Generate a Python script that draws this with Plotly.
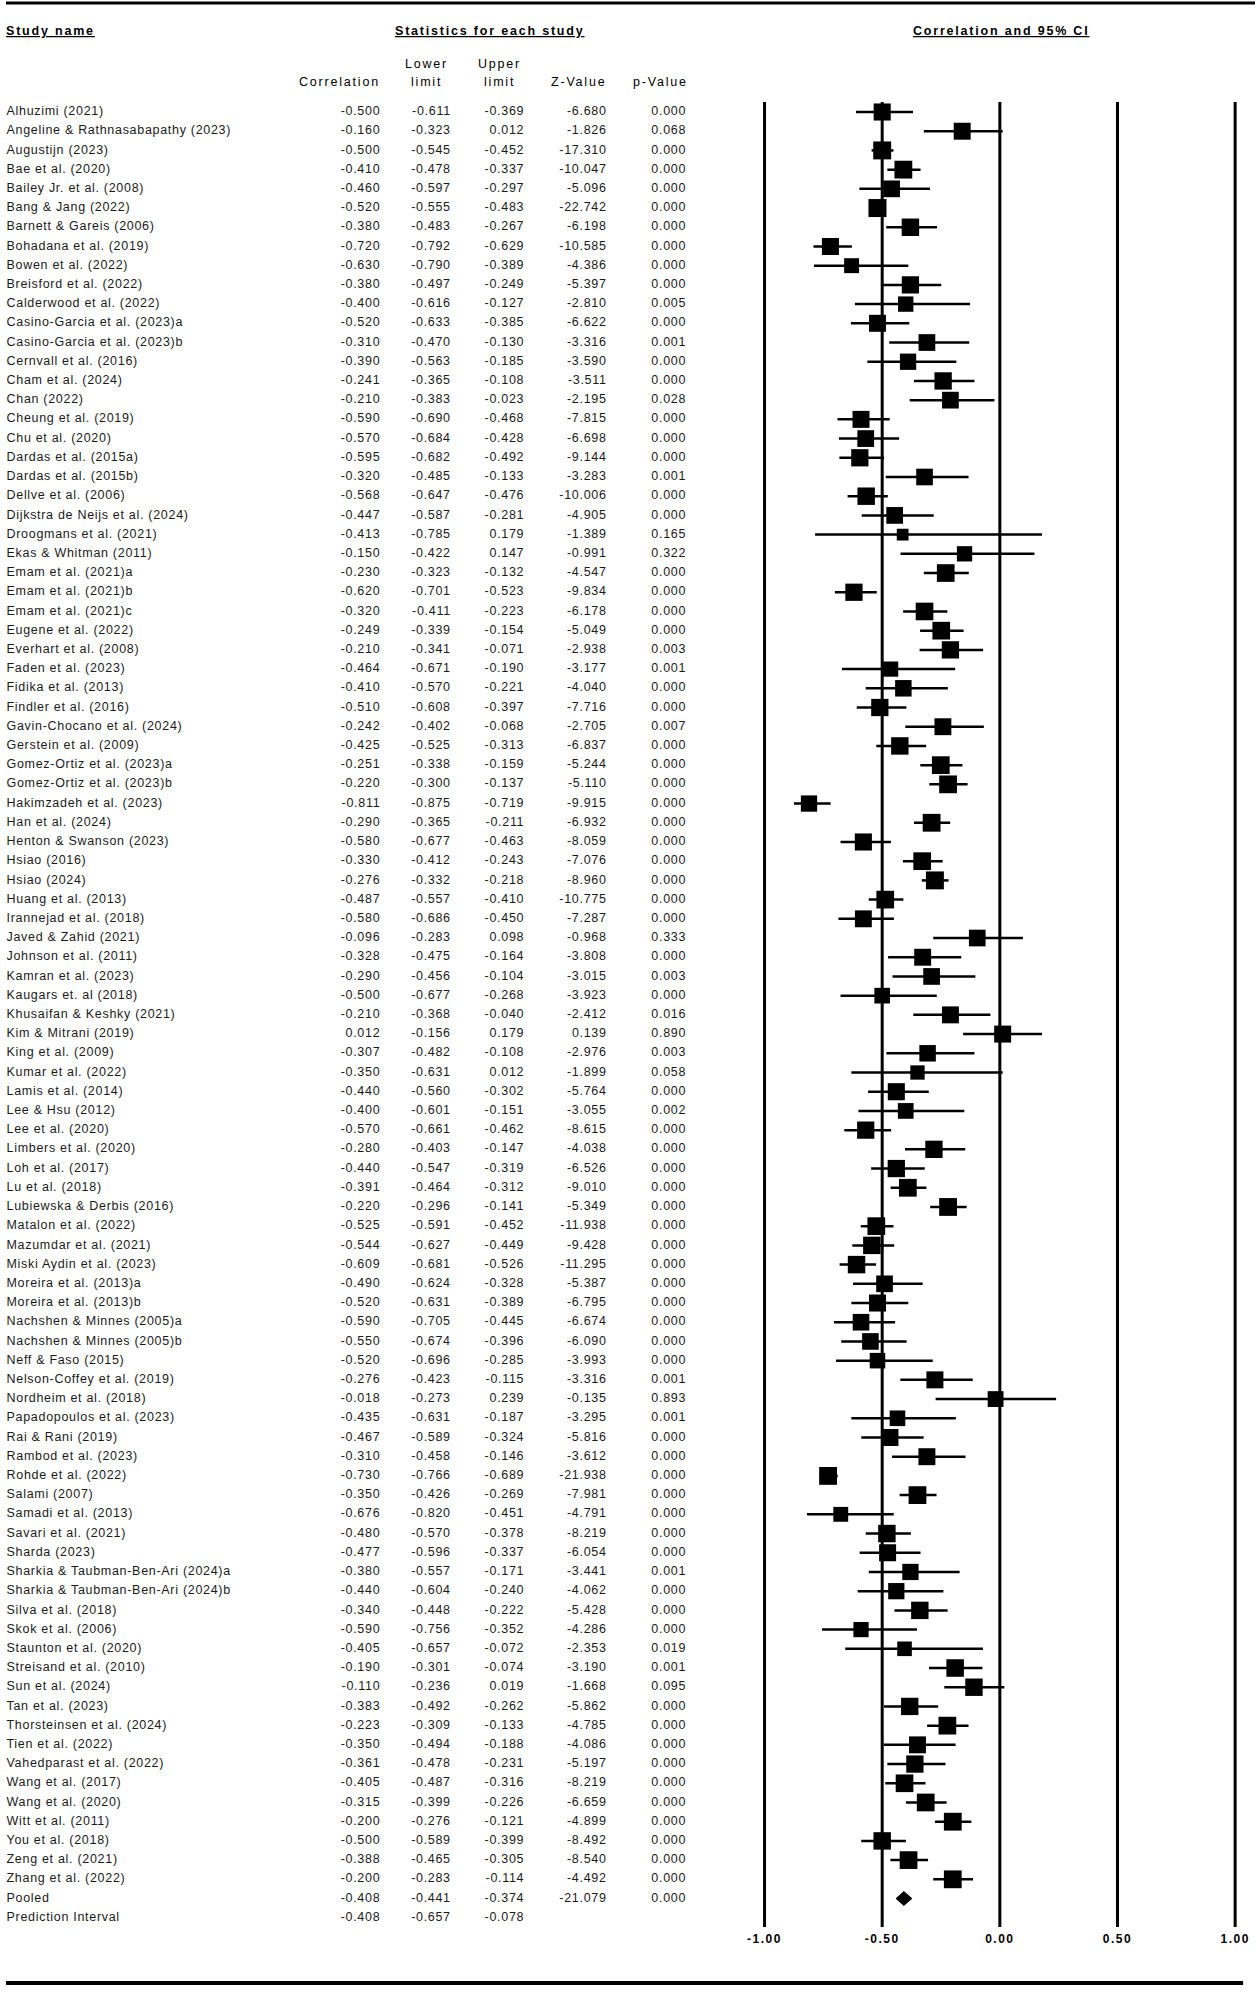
import numpy as np
import plotly.graph_objects as go

studies = [
    "Alhuzimi (2021)", "Angeline & Rathnasabapathy (2023)", "Augustijn (2023)", "Bae et al. (2020)",
    "Bailey Jr. et al. (2008)", "Bang & Jang (2022)", "Barnett & Gareis (2006)", "Bohadana et al. (2019)",
    "Bowen et al. (2022)", "Breisford et al. (2022)", "Calderwood et al. (2022)", "Casino-Garcia et al. (2023)a",
    "Casino-Garcia et al. (2023)b", "Cernvall et al. (2016)", "Cham et al. (2024)", "Chan (2022)",
    "Cheung et al. (2019)", "Chu et al. (2020)", "Dardas et al. (2015a)", "Dardas et al. (2015b)",
    "Dellve et al. (2006)", "Dijkstra de Neijs et al. (2024)", "Droogmans et al. (2021)", "Ekas & Whitman (2011)",
    "Emam et al. (2021)a", "Emam et al. (2021)b", "Emam et al. (2021)c", "Eugene et al. (2022)",
    "Everhart et al. (2008)", "Faden et al. (2023)", "Fidika et al. (2013)", "Findler et al. (2016)",
    "Gavin-Chocano et al. (2024)", "Gerstein et al. (2009)", "Gomez-Ortiz et al. (2023)a", "Gomez-Ortiz et al. (2023)b",
    "Hakimzadeh et al. (2023)", "Han et al. (2024)", "Henton & Swanson (2023)", "Hsiao (2016)",
    "Hsiao (2024)", "Huang et al. (2013)", "Irannejad et al. (2018)", "Javed & Zahid (2021)",
    "Johnson et al. (2011)", "Kamran et al. (2023)", "Kaugars et. al (2018)", "Khusaifan & Keshky (2021)",
    "Kim & Mitrani (2019)", "King et al. (2009)", "Kumar et al. (2022)", "Lamis et al. (2014)",
    "Lee & Hsu (2012)", "Lee et al. (2020)", "Limbers et al. (2020)", "Loh et al. (2017)",
    "Lu et al. (2018)", "Lubiewska & Derbis (2016)", "Matalon et al. (2022)", "Mazumdar et al. (2021)",
    "Miski Aydin et al. (2023)", "Moreira et al. (2013)a", "Moreira et al. (2013)b", "Nachshen & Minnes (2005)a",
    "Nachshen & Minnes (2005)b", "Neff & Faso (2015)", "Nelson-Coffey et al. (2019)", "Nordheim et al. (2018)",
    "Papadopoulos et al. (2023)", "Rai & Rani (2019)", "Rambod et al. (2023)", "Rohde et al. (2022)",
    "Salami (2007)", "Samadi et al. (2013)", "Savari et al. (2021)", "Sharda (2023)",
    "Sharkia & Taubman-Ben-Ari (2024)a", "Sharkia & Taubman-Ben-Ari (2024)b", "Silva et al. (2018)", "Skok et al. (2006)",
    "Staunton et al. (2020)", "Streisand et al. (2010)", "Sun et al. (2024)", "Tan et al. (2023)",
    "Thorsteinsen et al. (2024)", "Tien et al. (2022)", "Vahedparast et al. (2022)", "Wang et al. (2017)",
    "Wang et al. (2020)", "Witt et al. (2011)", "You et al. (2018)", "Zeng et al. (2021)",
    "Zhang et al. (2022)", "Pooled", "Prediction Interval",
]

correlation = [
    -0.500, -0.160, -0.500, -0.410, -0.460, -0.520, -0.380, -0.720, -0.630, -0.380, -0.400, -0.520,
    -0.310, -0.390, -0.241, -0.210, -0.590, -0.570, -0.595, -0.320, -0.568, -0.447, -0.413, -0.150,
    -0.230, -0.620, -0.320, -0.249, -0.210, -0.464, -0.410, -0.510, -0.242, -0.425, -0.251, -0.220,
    -0.811, -0.290, -0.580, -0.330, -0.276, -0.487, -0.580, -0.096, -0.328, -0.290, -0.500, -0.210,
    0.012, -0.307, -0.350, -0.440, -0.400, -0.570, -0.280, -0.440, -0.391, -0.220, -0.525, -0.544,
    -0.609, -0.490, -0.520, -0.590, -0.550, -0.520, -0.276, -0.018, -0.435, -0.467, -0.310, -0.730,
    -0.350, -0.676, -0.480, -0.477, -0.380, -0.440, -0.340, -0.590, -0.405, -0.190, -0.110, -0.383,
    -0.223, -0.350, -0.361, -0.405, -0.315, -0.200, -0.500, -0.388, -0.200, -0.408, -0.408,
]

lower_limit = [
    -0.611, -0.323, -0.545, -0.478, -0.597, -0.555, -0.483, -0.792, -0.790, -0.497, -0.616, -0.633,
    -0.470, -0.563, -0.365, -0.383, -0.690, -0.684, -0.682, -0.485, -0.647, -0.587, -0.785, -0.422,
    -0.323, -0.701, -0.411, -0.339, -0.341, -0.671, -0.570, -0.608, -0.402, -0.525, -0.338, -0.300,
    -0.875, -0.365, -0.677, -0.412, -0.332, -0.557, -0.686, -0.283, -0.475, -0.456, -0.677, -0.368,
    -0.156, -0.482, -0.631, -0.560, -0.601, -0.661, -0.403, -0.547, -0.464, -0.296, -0.591, -0.627,
    -0.681, -0.624, -0.631, -0.705, -0.674, -0.696, -0.423, -0.273, -0.631, -0.589, -0.458, -0.766,
    -0.426, -0.820, -0.570, -0.596, -0.557, -0.604, -0.448, -0.756, -0.657, -0.301, -0.236, -0.492,
    -0.309, -0.494, -0.478, -0.487, -0.399, -0.276, -0.589, -0.465, -0.283, -0.441, -0.657,
]

upper_limit = [
    -0.369, 0.012, -0.452, -0.337, -0.297, -0.483, -0.267, -0.629, -0.389, -0.249, -0.127, -0.385,
    -0.130, -0.185, -0.108, -0.023, -0.468, -0.428, -0.492, -0.133, -0.476, -0.281, 0.179, 0.147,
    -0.132, -0.523, -0.223, -0.154, -0.071, -0.190, -0.221, -0.397, -0.068, -0.313, -0.159, -0.137,
    -0.719, -0.211, -0.463, -0.243, -0.218, -0.410, -0.450, 0.098, -0.164, -0.104, -0.268, -0.040,
    0.179, -0.108, 0.012, -0.302, -0.151, -0.462, -0.147, -0.319, -0.312, -0.141, -0.452, -0.449,
    -0.526, -0.328, -0.389, -0.445, -0.396, -0.285, -0.115, 0.239, -0.187, -0.324, -0.146, -0.689,
    -0.269, -0.451, -0.378, -0.337, -0.171, -0.240, -0.222, -0.352, -0.072, -0.074, 0.019, -0.262,
    -0.133, -0.188, -0.231, -0.316, -0.226, -0.121, -0.399, -0.305, -0.114, -0.374, -0.078,
]

z_value = [
    -6.680, -1.826, -17.310, -10.047, -5.096, -22.742, -6.198, -10.585, -4.386, -5.397, -2.810, -6.622,
    -3.316, -3.590, -3.511, -2.195, -7.815, -6.698, -9.144, -3.283, -10.006, -4.905, -1.389, -0.991,
    -4.547, -9.834, -6.178, -5.049, -2.938, -3.177, -4.040, -7.716, -2.705, -6.837, -5.244, -5.110,
    -9.915, -6.932, -8.059, -7.076, -8.960, -10.775, -7.287, -0.968, -3.808, -3.015, -3.923, -2.412,
    0.139, -2.976, -1.899, -5.764, -3.055, -8.615, -4.038, -6.526, -9.010, -5.349, -11.938, -9.428,
    -11.295, -5.387, -6.795, -6.674, -6.090, -3.993, -3.316, -0.135, -3.295, -5.816, -3.612, -21.938,
    -7.981, -4.791, -8.219, -6.054, -3.441, -4.062, -5.428, -4.286, -2.353, -3.190, -1.668, -5.862,
    -4.785, -4.086, -5.197, -8.219, -6.659, -4.899, -8.492, -8.540, -4.492, -21.079, None,
]

p_value = [
    0.000, 0.068, 0.000, 0.000, 0.000, 0.000, 0.000, 0.000, 0.000, 0.000, 0.005, 0.000,
    0.001, 0.000, 0.000, 0.028, 0.000, 0.000, 0.000, 0.001, 0.000, 0.000, 0.165, 0.322,
    0.000, 0.000, 0.000, 0.000, 0.003, 0.001, 0.000, 0.000, 0.007, 0.000, 0.000, 0.000,
    0.000, 0.000, 0.000, 0.000, 0.000, 0.000, 0.000, 0.333, 0.000, 0.003, 0.000, 0.016,
    0.890, 0.003, 0.058, 0.000, 0.002, 0.000, 0.000, 0.000, 0.000, 0.000, 0.000, 0.000,
    0.000, 0.000, 0.000, 0.000, 0.000, 0.000, 0.001, 0.893, 0.001, 0.000, 0.000, 0.000,
    0.000, 0.000, 0.000, 0.000, 0.001, 0.000, 0.000, 0.000, 0.019, 0.001, 0.095, 0.000,
    0.000, 0.000, 0.000, 0.000, 0.000, 0.000, 0.000, 0.000, 0.000, 0.000, None,
]

axis_ticks = [-1.0, -0.5, 0.0, 0.5, 1.0]
axis_ticktext = ["-1.00", "-0.50", "0.00", "0.50", "1.00"]

# ---------------- layout constants (pixels of the 1258 x 1994 page) ----------------
W, H = 1258, 1994
ROW0, ROWH = 112.0, 19.21        # pixel y of first row, row pitch
PLOT_BOTTOM = 1930.0             # pixel y where the plotting band ends (axis labels below)
X_M1, X_P1 = 764.0, 1238.0       # pixel x of -1 and +1
FONT = "Liberation Sans, Arial, sans-serif"
TXT = "#1a1a1a"
BODY_SP = "letter-spacing:0.7px"
HEAD_SP = "letter-spacing:1.8px"

n = len(studies)
rows = list(range(n))
pooled_idx = studies.index("Pooled")
pi_idx = studies.index("Prediction Interval")
study_rows = [i for i in rows if i not in (pooled_idx, pi_idx)]

# y axis: row index, reversed
y_top = (0 - ROW0) / ROWH
y_bot = (PLOT_BOTTOM - ROW0) / ROWH
ydom0 = (H - PLOT_BOTTOM) / H

# forest x axis
ppu = (X_P1 - X_M1) / 2.0
xr = [-1.05, 1.05]
xdom = [(X_M1 + (xr[0] + 1) * ppu) / W, (X_M1 + (xr[1] + 1) * ppu) / W]


def sp(t, style):
    return f'<span style="{style}">{t}</span>' if t else ""


def fmt(v):
    return "" if v is None else sp(f"{v:.3f}", BODY_SP)


# random-effects weights for box sizes (Fisher z scale)
zl = np.arctanh(np.array(lower_limit, dtype=float))
zu = np.arctanh(np.array(upper_limit, dtype=float))
se = (zu - zl) / (2 * 1.96)
pi_half = (zu[pi_idx] - zl[pi_idx]) / 2
tau2 = max((pi_half / 1.99) ** 2 - se[pooled_idx] ** 2, 0.0)
w = 1.0 / (se ** 2 + tau2)
w_st = w[study_rows]
sizes = 18.0 * (w_st / w_st.max()) ** 0.3

fig = go.Figure()

# whiskers
wx, wy = [], []
for i in study_rows:
    wx += [lower_limit[i], upper_limit[i], None]
    wy += [i, i, None]
fig.add_trace(go.Scatter(x=wx, y=wy, mode="lines", line=dict(color="black", width=2.5),
                         hoverinfo="skip", xaxis="x", yaxis="y", cliponaxis=False))

# squares
fig.add_trace(go.Scatter(
    x=[correlation[i] for i in study_rows], y=study_rows, mode="markers",
    marker=dict(symbol="square", size=sizes, color="black", opacity=1, line=dict(width=0)),
    xaxis="x", yaxis="y", cliponaxis=False,
    text=[studies[i] for i in study_rows], hoverinfo="text+x"))

# pooled diamond
dh = 0.36
fig.add_trace(go.Scatter(
    x=[lower_limit[pooled_idx], correlation[pooled_idx], upper_limit[pooled_idx], correlation[pooled_idx], lower_limit[pooled_idx]],
    y=[pooled_idx, pooled_idx - dh, pooled_idx, pooled_idx + dh, pooled_idx],
    mode="lines", fill="toself", fillcolor="black", line=dict(color="black", width=1),
    xaxis="x", yaxis="y", hoverinfo="skip", cliponaxis=False))

# table columns (on a pixel-unit x axis)
tfont = dict(family=FONT, size=12.5, color=TXT)
fig.add_trace(go.Scatter(x=[0.5] * n, y=rows, text=[sp(s, BODY_SP) for s in studies], mode="text",
                         textposition="middle right", textfont=tfont, xaxis="x2", yaxis="y",
                         hoverinfo="skip", cliponaxis=False))
columns = [
    (377, [fmt(v) for v in correlation]),
    (448, [fmt(v) for v in lower_limit]),
    (522, [fmt(v) for v in upper_limit]),
    (605, [fmt(v) for v in z_value]),
    (685, [fmt(v) for v in p_value]),
]
for xpos, col in columns:
    fig.add_trace(go.Scatter(x=[xpos] * n, y=rows, text=col, mode="text", textposition="middle left",
                             textfont=tfont, xaxis="x2", yaxis="y", hoverinfo="skip", cliponaxis=False))

# vertical reference lines
shapes = []
for v in axis_ticks:
    shapes.append(dict(type="line", xref="x", yref="y", x0=v, x1=v,
                       y0=(102 - ROW0) / ROWH, y1=(1927 - ROW0) / ROWH,
                       line=dict(color="black", width=3)))
# top and bottom rules
shapes.append(dict(type="line", xref="paper", yref="paper", x0=0, x1=1,
                   y0=1 - 3 / H, y1=1 - 3 / H, line=dict(color="black", width=3)))
shapes.append(dict(type="line", xref="paper", yref="paper", x0=0, x1=1246 / W,
                   y0=1 - 1983 / H, y1=1 - 1983 / H, line=dict(color="black", width=4)))


def ann(text, x, y, xanchor, style=HEAD_SP, size=12.5):
    return dict(text=sp(text, style), x=x / W, y=1 - y / H, xref="paper", yref="paper",
                xanchor=xanchor, yanchor="middle", showarrow=False,
                font=dict(family=FONT, size=size, color="black"))


annotations = [
    ann("<b><u>Study name</u></b>", -2, 31, "left"),
    ann("<b><u>Statistics for each study</u></b>", 487, 31, "center"),
    ann("<b><u>Correlation and 95% CI</u></b>", 1002, 31, "center"),
    ann("Correlation", 379, 82, "right"),
    ann("Lower", 424, 64, "center"),
    ann("limit", 424, 82, "center"),
    ann("Upper", 497, 64, "center"),
    ann("limit", 497, 82, "center"),
    ann("Z-Value", 606, 82, "right"),
    ann("p-Value", 689, 82, "right"),
]

fig.update_layout(
    width=W, height=H, margin=dict(l=0, r=0, t=0, b=0),
    paper_bgcolor="white", plot_bgcolor="rgba(0,0,0,0)", showlegend=False,
    xaxis=dict(domain=xdom, range=xr, anchor="y", showgrid=False, zeroline=False, showline=False,
               ticks="", tickvals=axis_ticks,
               ticktext=[sp("<b>" + t + "</b>", "letter-spacing:1.5px") for t in axis_ticktext],
               tickfont=dict(family=FONT, size=12, color="black"), fixedrange=True),
    xaxis2=dict(domain=[0, 1], range=[0, W], anchor="y", visible=False, fixedrange=True),
    yaxis=dict(domain=[ydom0, 1], range=[y_bot, y_top], anchor="x", visible=False, fixedrange=True),
    shapes=shapes, annotations=annotations,
)

fig.write_html("out.html", config={"displayModeBar": False},
               post_script="document.body.style.margin='0';document.body.style.overflow='hidden';")
